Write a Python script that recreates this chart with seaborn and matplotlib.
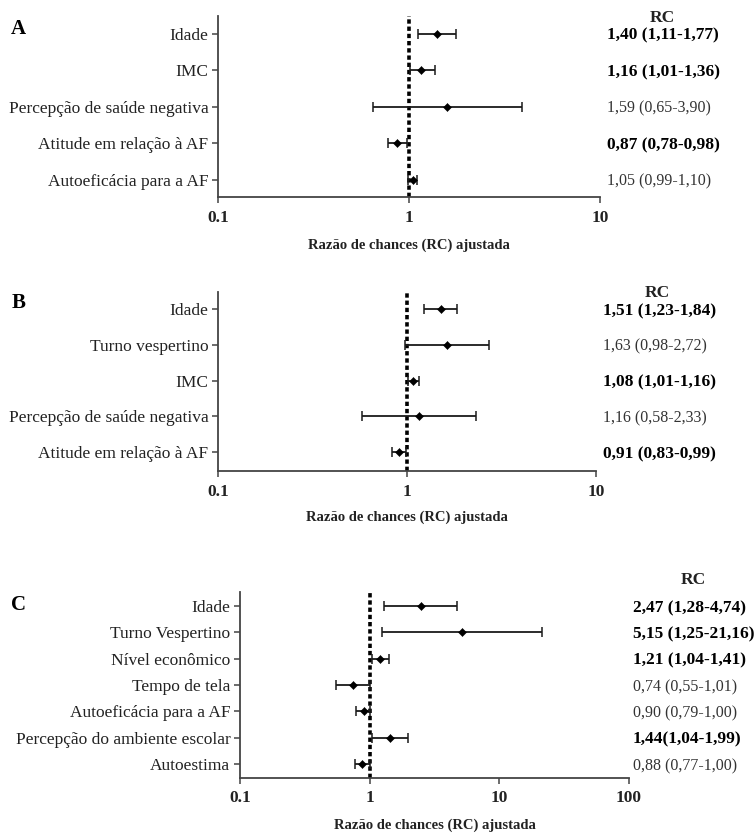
import numpy as np
import pandas as pd
import matplotlib
matplotlib.use("Agg")
import matplotlib.pyplot as plt
import seaborn as sns

# Painel A
labels_a = ["Idade", "IMC", "Percepção de saúde negativa",
            "Atitude em relação à AF", "Autoeficácia para a AF"]
or_a = [1.40, 1.16, 1.59, 0.87, 1.05]
lo_a = [1.11, 1.01, 0.65, 0.78, 0.99]
hi_a = [1.77, 1.36, 3.90, 0.98, 1.10]
txt_a = ["1,40 (1,11-1,77)", "1,16 (1,01-1,36)", "1,59 (0,65-3,90)",
         "0,87 (0,78-0,98)", "1,05 (0,99-1,10)"]
bold_a = [True, True, False, True, False]

# Painel B
labels_b = ["Idade", "Turno vespertino", "IMC",
            "Percepção de saúde negativa", "Atitude em relação à AF"]
or_b = [1.51, 1.63, 1.08, 1.16, 0.91]
lo_b = [1.23, 0.98, 1.01, 0.58, 0.83]
hi_b = [1.84, 2.72, 1.16, 2.33, 0.99]
txt_b = ["1,51 (1,23-1,84)", "1,63 (0,98-2,72)", "1,08 (1,01-1,16)",
         "1,16 (0,58-2,33)", "0,91 (0,83-0,99)"]
bold_b = [True, False, True, False, True]

# Painel C
labels_c = ["Idade", "Turno Vespertino", "Nível econômico", "Tempo de tela",
            "Autoeficácia para a AF", "Percepção do ambiente escolar", "Autoestima"]
or_c = [2.47, 5.15, 1.21, 0.74, 0.90, 1.44, 0.88]
lo_c = [1.28, 1.25, 1.04, 0.55, 0.79, 1.04, 0.77]
hi_c = [4.74, 21.16, 1.41, 1.01, 1.00, 1.99, 1.00]
txt_c = ["2,47 (1,28-4,74)", "5,15 (1,25-21,16)", "1,21 (1,04-1,41)",
         "0,74 (0,55-1,01)", "0,90 (0,79-1,00)", "1,44(1,04-1,99)",
         "0,88 (0,77-1,00)"]
bold_c = [True, True, True, False, False, True, False]

xticks_ab = [0.1, 1, 10]
xticks_c = [0.1, 1, 10, 100]

sns.set_style("ticks")
plt.rcParams['font.family'] = ['Liberation Serif', 'DejaVu Serif']

W, H = 755, 833
fig = plt.figure(figsize=(W / 100, H / 100), dpi=100)
fig.patch.set_facecolor("white")

GRAY = "#444444"
TXT = "#222222"


def panel(box, labels, ors, los, his, txts, bolds, xticks, ylim,
          txt_x, head, letter, xlab):
    left, top, right, bottom = box
    ax = fig.add_axes([left / W, 1 - bottom / H, (right - left) / W, (bottom - top) / H])
    df = pd.DataFrame({"pos": np.arange(len(labels)), "rc": ors,
                       "lo": los, "hi": his})
    ax.errorbar(df["rc"], df["pos"],
                xerr=[df["rc"] - df["lo"], df["hi"] - df["rc"]],
                fmt="none", ecolor="#1a1a1a", elinewidth=1.3,
                capsize=3.5, capthick=1.1, zorder=2)
    sns.scatterplot(data=df, x="rc", y="pos", marker="D", s=17,
                    color="black", edgecolor="black", ax=ax, zorder=3)
    ax.axvline(1, color="black", lw=2.6, ls=(0, (1.2, 0.8)), zorder=1)
    ax.set_xscale("log")
    ax.set_xlim(xticks[0], xticks[-1])
    ax.set_ylim(*ylim)
    ax.set_xticks(xticks)
    ax.set_xticklabels([f"{t:g}" for t in xticks], fontweight="bold",
                       fontsize=12.5, color=TXT)
    ax.xaxis.set_minor_locator(matplotlib.ticker.NullLocator())
    ax.set_yticks(df["pos"])
    ax.set_yticklabels(labels, fontsize=12.5, color=TXT)
    ax.tick_params(axis="both", length=4, width=1.1, color=GRAY)
    ax.tick_params(axis="x", pad=5)
    ax.tick_params(axis="y", pad=3)
    ax.set_xlabel("")
    ax.set_ylabel("")
    sns.despine(ax=ax)
    for s in ["left", "bottom"]:
        ax.spines[s].set_color(GRAY)
        ax.spines[s].set_linewidth(1.3)
    ax.set_facecolor("white")
    tr = matplotlib.transforms.blended_transform_factory(ax.transAxes, ax.transData)
    for i, (t, b) in enumerate(zip(txts, bolds)):
        ax.text(txt_x, i, t, transform=tr, va="center_baseline", ha="left",
                fontsize=12.5 if b else 11.5,
                fontweight="bold" if b else "normal",
                color="black" if b else "#333333", clip_on=False)
    fig.text(head[0] / W, 1 - head[1] / H, "RC", ha="center", va="center_baseline",
             fontsize=12.5, fontweight="bold", color=TXT)
    fig.text(letter[0] / W, 1 - letter[1] / H, letter[2], ha="left", va="center_baseline",
             fontsize=15, fontweight="bold", color="black")
    fig.text(xlab[0] / W, 1 - xlab[1] / H, "Razão de chances (RC) ajustada",
             ha="center", va="center", fontsize=10.5, fontweight="bold", color=TXT)
    return ax


panel((218, 16, 600, 197), labels_a, or_a, lo_a, hi_a, txt_a, bold_a,
      xticks_ab, (4.47, -0.49), 1.018, (662, 16), (11, 27, "A"), (409, 245))
panel((218, 292, 596, 471), labels_b, or_b, lo_b, hi_b, txt_b, bold_b,
      xticks_ab, (4.53, -0.48), 1.019, (657, 291), (12, 301, "B"), (407, 517))
panel((240, 592, 629, 778), labels_c, or_c, lo_c, hi_c, txt_c, bold_c,
      xticks_c, (6.53, -0.53), 1.010, (693, 578), (11, 603, "C"), (435, 825))

fig.savefig("out.png", dpi=100, facecolor="white")
